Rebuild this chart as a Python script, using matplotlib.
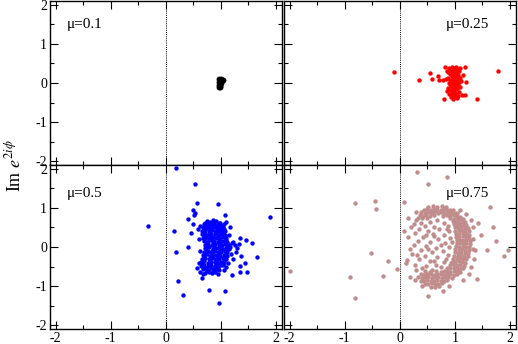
import numpy as np
import matplotlib
matplotlib.use('Agg')
import matplotlib.pyplot as plt
from matplotlib.ticker import MultipleLocator

plt.rcParams['font.family'] = ['Liberation Serif', 'DejaVu Serif']
plt.rcParams['mathtext.fontset'] = 'stix'
plt.rcParams['axes.unicode_minus'] = False

# mu = 0.1 (black)
pts_01 = [(0.97, 0.09), (1.00, 0.10), (1.03, 0.08), (0.99, 0.06), (0.97, 0.03), (1.00, 0.01),
          (0.98, -0.02), (0.97, -0.05), (0.99, -0.07), (0.97, -0.10), (0.99, -0.11), (1.01, 0.04)]

# mu = 0.25 (red)
pts_025 = [(0.95, 0.40), (1.02, 0.40), (0.90, 0.38), (1.05, 0.36), (0.98, 0.35), (0.93, 0.32),
           (1.00, 0.30), (1.08, 0.30), (0.88, 0.28), (0.96, 0.27), (1.03, 0.25), (0.91, 0.22),
           (0.99, 0.21), (1.06, 0.20), (0.94, 0.17), (1.01, 0.15), (0.87, 0.14), (1.09, 0.13),
           (0.97, 0.11), (1.04, 0.09), (0.92, 0.07), (1.00, 0.05), (1.07, 0.03), (0.95, 0.02),
           (0.89, 0.00), (1.02, -0.01), (0.98, -0.04), (1.05, -0.06), (0.93, -0.08), (1.00, -0.10),
           (1.10, -0.11), (0.88, -0.13), (0.96, -0.14), (1.03, -0.16), (0.92, -0.19), (0.99, -0.20),
           (1.07, -0.22), (0.95, -0.25), (1.02, -0.27), (0.89, -0.29), (0.98, -0.31), (1.05, -0.33),
           (0.93, -0.35), (1.00, -0.37), (0.96, -0.40), (0.85, -0.20), (1.12, 0.05), (0.86, 0.32),
           (1.13, -0.30), (0.84, 0.10), (1.10, 0.38), (0.97, 0.00), (1.01, 0.20), (0.95, -0.30),
           (0.97, 0.25), (1.00, -0.25), (0.97, -0.18), (1.03, 0.10), (0.95, 0.08), (1.02, -0.08),
           (0.99, 0.38), (1.03, -0.38), (0.91, -0.03), (1.04, 0.31),
           (-0.11, 0.29), (0.35, 0.08), (0.54, 0.26), (0.59, 0.10), (0.69, 0.18), (0.72, 0.08),
           (0.78, 0.08), (1.78, 0.30), (1.40, -0.40), (1.19, -0.31), (1.18, 0.40), (1.21, 0.03),
           (0.80, -0.42), (0.82, 0.40), (1.15, 0.20)]

# mu = 0.5 (blue): dense body
core_05 = [(0.74, 0.67), (0.80, 0.65), (0.86, 0.68), (0.92, 0.66), (0.77, 0.62),
           (0.69, 0.59), (0.75, 0.57), (0.82, 0.60), (0.88, 0.58), (0.94, 0.59), (0.99, 0.56),
           (0.67, 0.51), (0.73, 0.49), (0.79, 0.52), (0.85, 0.50), (0.91, 0.51), (0.97, 0.49), (1.03, 0.50),
           (0.66, 0.42), (0.71, 0.44), (0.78, 0.41), (0.84, 0.43), (0.90, 0.41), (0.96, 0.42), (1.02, 0.44), (1.07, 0.41),
           (0.65, 0.33), (0.71, 0.35), (0.77, 0.32), (0.83, 0.34), (0.89, 0.33), (0.95, 0.31), (1.01, 0.34), (1.07, 0.32),
           (0.67, 0.24), (0.73, 0.26), (0.79, 0.23), (0.86, 0.25), (0.92, 0.24), (0.98, 0.22), (1.04, 0.25), (1.10, 0.24),
           (0.69, 0.15), (0.75, 0.14), (0.81, 0.17), (0.88, 0.15), (0.94, 0.13), (1.00, 0.16), (1.06, 0.15), (1.12, 0.14),
           (0.71, 0.06), (0.77, 0.08), (0.84, 0.05), (0.90, 0.07), (0.96, 0.06), (1.02, 0.04), (1.08, 0.07), (1.14, 0.05),
           (0.72, -0.03), (0.78, -0.01), (0.85, -0.04), (0.91, -0.02), (0.97, -0.03), (1.03, -0.05), (1.09, -0.02), (1.14, -0.04),
           (0.70, -0.12), (0.76, -0.10), (0.82, -0.13), (0.89, -0.11), (0.95, -0.12), (1.01, -0.14), (1.07, -0.11), (1.12, -0.13),
           (0.68, -0.21), (0.74, -0.19), (0.80, -0.22), (0.87, -0.20), (0.93, -0.21), (0.99, -0.23), (1.05, -0.20), (1.11, -0.22),
           (0.66, -0.30), (0.72, -0.28), (0.78, -0.31), (0.85, -0.29), (0.91, -0.30), (0.97, -0.32), (1.03, -0.29), (1.09, -0.31),
           (0.64, -0.39), (0.70, -0.37), (0.76, -0.40), (0.83, -0.38), (0.89, -0.39), (0.95, -0.41), (1.01, -0.38), (1.06, -0.40),
           (0.64, -0.48), (0.70, -0.46), (0.77, -0.49), (0.83, -0.47), (0.89, -0.48), (0.95, -0.50), (1.01, -0.47),
           (0.67, -0.57), (0.73, -0.55), (0.79, -0.58), (0.85, -0.56), (0.91, -0.57), (0.97, -0.59),
           (0.72, -0.66), (0.78, -0.64), (0.84, -0.67), (0.90, -0.65)]
# mu = 0.5: points between the rows of the body
fill_05 = [(0.72, 0.62), (0.84, 0.63), (0.96, 0.61),
           (0.70, 0.54), (0.78, 0.55), (0.90, 0.53), (1.01, 0.54),
           (0.69, 0.46), (0.81, 0.47), (0.93, 0.45), (1.05, 0.46),
           (0.68, 0.38), (0.80, 0.37), (0.92, 0.38), (1.04, 0.36),
           (0.70, 0.29), (0.82, 0.28), (0.95, 0.29), (1.07, 0.27),
           (0.72, 0.20), (0.84, 0.19), (0.97, 0.20), (1.09, 0.18),
           (0.74, 0.11), (0.86, 0.10), (0.99, 0.11), (1.11, 0.09),
           (0.75, 0.02), (0.87, 0.01), (1.00, 0.02), (1.12, 0.00),
           (0.73, -0.08), (0.86, -0.07), (0.98, -0.08), (1.10, -0.09),
           (0.71, -0.17), (0.84, -0.16), (0.96, -0.17), (1.09, -0.18),
           (0.69, -0.26), (0.82, -0.25), (0.94, -0.26), (1.06, -0.27),
           (0.67, -0.35), (0.80, -0.34), (0.92, -0.35), (1.05, -0.36),
           (0.67, -0.44), (0.80, -0.43), (0.92, -0.44), (1.03, -0.45),
           (0.70, -0.53), (0.82, -0.52), (0.94, -0.53),
           (0.75, -0.62), (0.87, -0.61)]
# mu = 0.5: scattered points
scat_05 = [(0.60, 0.20), (0.62, -0.10), (0.58, 0.45), (0.61, -0.42), (1.15, 0.30), (1.18, -0.18),
           (1.17, 0.00), (1.13, -0.40), (1.10, -0.50), (1.05, -0.58), (0.98, 0.62), (1.05, 0.58),
           (0.95, -0.68), (0.68, -0.70), (0.63, 0.55), (1.20, 0.10), (1.22, -0.30), (1.25, 0.05),
           (0.19, 2.02), (0.53, 1.61), (0.56, 1.12), (0.95, 1.09), (1.07, 0.82), (0.50, 0.95),
           (0.53, 0.86), (0.51, 0.82), (0.41, 0.71), (0.49, 0.58), (0.45, 0.37), (0.15, 0.42),
           (-0.33, 0.54), (0.41, 0.01), (0.19, -0.14), (0.22, -0.87), (0.32, -1.23), (0.79, -1.10),
           (1.07, -1.13), (0.96, -1.44), (0.65, -0.80), (0.56, -0.55), (0.62, -0.63), (1.21, -0.72),
           (1.35, -0.49), (1.36, -0.23), (1.47, -0.63), (1.35, -0.65), (1.44, -0.42), (1.22, 0.14),
           (1.35, 0.22), (1.45, 0.18), (1.56, 0.09), (1.30, -0.03), (1.65, -0.25), (1.90, 0.76),
           (1.16, 0.52), (1.10, 0.65), (1.28, -0.12), (1.32, 0.08)]

# mu = 0.75 (brown): ring
ring_075 = [(0.52, 1.03), (0.60, 1.05), (0.68, 1.02), (0.76, 1.04), (0.84, 1.02),
            (0.44, 0.96), (0.50, 0.97), (0.56, 0.95), (0.62, 0.97), (0.68, 0.96), (0.74, 0.95),
            (0.80, 0.97), (0.86, 0.96), (0.92, 0.95), (0.97, 0.94),
            (0.39, 0.89), (0.45, 0.88), (0.51, 0.90), (0.57, 0.88), (0.63, 0.89), (0.69, 0.87),
            (0.75, 0.89), (0.81, 0.88), (0.87, 0.90), (0.93, 0.88), (0.99, 0.87), (1.04, 0.86),
            (0.36, 0.81), (0.42, 0.80), (0.48, 0.82), (0.55, 0.80), (0.62, 0.81), (0.78, 0.80),
            (0.85, 0.82), (0.92, 0.80), (0.98, 0.81), (1.04, 0.79), (1.09, 0.78),
            (0.34, 0.74), (0.40, 0.73), (0.92, 0.74), (0.98, 0.72), (1.04, 0.74), (1.10, 0.72), (1.15, 0.71),
            (0.96, 0.66), (1.02, 0.65), (1.08, 0.67), (1.14, 0.65), (1.19, 0.64),
            (0.98, 0.58), (1.04, 0.57), (1.10, 0.59), (1.16, 0.57), (1.21, 0.56),
            (1.00, 0.50), (1.06, 0.49), (1.12, 0.51), (1.18, 0.49), (1.23, 0.48),
            (1.01, 0.42), (1.07, 0.41), (1.13, 0.43), (1.19, 0.41), (1.25, 0.40),
            (1.02, 0.34), (1.08, 0.33), (1.14, 0.35), (1.20, 0.33), (1.26, 0.32),
            (1.02, 0.26), (1.08, 0.25), (1.14, 0.27), (1.20, 0.25), (1.26, 0.24),
            (1.03, 0.18), (1.09, 0.17), (1.15, 0.19), (1.21, 0.17), (1.27, 0.16),
            (1.03, 0.10), (1.09, 0.09), (1.15, 0.11), (1.21, 0.09), (1.27, 0.08),
            (1.02, 0.02), (1.08, 0.01), (1.14, 0.03), (1.20, 0.01), (1.26, 0.00),
            (1.01, -0.06), (1.07, -0.07), (1.13, -0.05), (1.19, -0.07), (1.25, -0.08),
            (1.00, -0.14), (1.06, -0.15), (1.12, -0.13), (1.18, -0.15), (1.24, -0.16),
            (0.99, -0.22), (1.05, -0.23), (1.11, -0.21), (1.17, -0.23), (1.23, -0.24),
            (0.97, -0.30), (1.03, -0.31), (1.09, -0.29), (1.15, -0.31), (1.21, -0.32),
            (0.95, -0.38), (1.01, -0.39), (1.07, -0.37), (1.13, -0.39), (1.19, -0.40),
            (0.92, -0.46), (0.98, -0.47), (1.04, -0.45), (1.10, -0.47), (1.16, -0.48),
            (0.86, -0.54), (0.92, -0.55), (0.98, -0.53), (1.04, -0.55), (1.10, -0.56), (1.14, -0.54),
            (0.45, -0.62), (0.55, -0.63), (0.66, -0.61), (0.74, -0.63), (0.80, -0.62), (0.86, -0.61),
            (0.92, -0.63), (0.98, -0.62), (1.04, -0.61), (1.09, -0.63),
            (0.38, -0.70), (0.44, -0.71), (0.50, -0.69), (0.56, -0.70), (0.62, -0.71), (0.68, -0.69),
            (0.74, -0.70), (0.80, -0.71), (0.86, -0.69), (0.92, -0.70), (0.98, -0.71), (1.03, -0.69),
            (0.33, -0.78), (0.40, -0.79), (0.46, -0.77), (0.52, -0.78), (0.58, -0.79), (0.64, -0.77),
            (0.70, -0.78), (0.76, -0.79), (0.82, -0.77), (0.88, -0.78), (0.94, -0.79),
            (0.38, -0.86), (0.44, -0.87), (0.50, -0.85), (0.56, -0.86), (0.62, -0.87), (0.68, -0.85),
            (0.74, -0.86), (0.80, -0.87), (0.86, -0.85),
            (0.46, -0.94), (0.52, -0.95), (0.58, -0.93), (0.64, -0.94), (0.70, -0.95), (0.76, -0.93),
            (0.56, -1.02), (0.64, -1.03), (0.72, -1.01)]
# mu = 0.75: points inside and around the ring
scat_075 = [(0.55, 0.65), (0.68, 0.70), (0.80, 0.62), (0.45, 0.55), (0.62, 0.52), (0.88, 0.55),
            (0.35, 0.45), (0.52, 0.42), (0.72, 0.45), (0.90, 0.40), (0.28, 0.35), (0.60, 0.33),
            (0.80, 0.30), (0.42, 0.25), (0.70, 0.20), (0.92, 0.22), (0.33, 0.15), (0.55, 0.12),
            (0.82, 0.10), (0.25, 0.05), (0.47, 0.02), (0.65, -0.02), (0.90, 0.00), (0.38, -0.08),
            (0.58, -0.12), (0.78, -0.10), (0.22, -0.18), (0.45, -0.22), (0.68, -0.25), (0.88, -0.20),
            (0.35, -0.32), (0.55, -0.35), (0.80, -0.38), (0.28, -0.45), (0.48, -0.48), (0.65, -0.45),
            (0.40, -0.55), (0.58, -0.58), (0.75, -0.52), (0.20, 0.50), (0.15, 0.25), (0.18, -0.05),
            (0.12, -0.40), (0.30, 0.70), (0.25, 0.60), (0.50, 0.75), (0.62, 0.28), (0.74, 0.05),
            (0.52, -0.05), (0.30, -0.60), (0.38, 0.62), (0.48, 0.30), (0.84, -0.30), (0.86, 0.45),
            (0.32, -0.20), (0.62, -0.35), (0.95, 0.12), (0.93, -0.40), (1.32, 0.50), (1.35, -0.30),
            (1.30, 0.70), (1.33, 0.20), (1.30, -0.50), (1.25, -0.70), (1.15, -0.85), (1.20, 0.85),
            (1.10, 0.95), (1.32, -0.05), (0.30, 0.90), (0.28, -0.85), (0.40, -1.00), (0.90, -1.00),
            (-0.82, 1.12), (-0.45, 1.19), (-0.43, 0.97), (-2.00, -0.62), (-0.53, -0.15), (-0.21, -0.35),
            (-0.90, -0.78), (-0.31, -0.74), (-0.81, -1.30), (-0.05, -0.57), (0.07, 1.16), (0.31, 1.91),
            (0.52, 1.62), (0.86, 1.79), (0.07, 0.41), (0.15, 0.74), (0.13, -0.33), (0.19, -0.78),
            (1.63, 1.03), (1.69, 0.50), (1.75, 0.16), (1.59, -0.08), (1.90, -0.23), (1.96, -0.08),
            (1.41, -0.83), (1.36, -0.08), (0.51, -1.26), (0.78, -1.13), (1.48, 0.31), (1.42, 0.61)]

panel_data = [pts_01, pts_025, core_05 + fill_05 + scat_05, ring_075 + scat_075]
panel_colors = ['black', '#ff0000', '#0000ff', '#c08c8c']
panel_sizes = [18, 10, 10, 10]
panel_labels = [r'μ=0.1', r'μ=0.25', r'μ=0.5', r'μ=0.75']
label_pos = [(-1.8, 1.5), (0.84, 1.5), (-1.8, 1.38), (0.84, 1.38)]

W, H = 518, 344
fig = plt.figure(figsize=(W / 100, H / 100), dpi=100)
xl = [50 / W, 284 / W]
yb = [1 - 165 / H, 1 - 329 / H]
aw, ah = 231.5 / W, 164 / H

for k in range(4):
    r, c = k // 2, k % 2
    ax = fig.add_axes([xl[c], yb[r], aw, ah])
    pts = np.array(panel_data[k])
    ax.scatter(pts[:, 0], pts[:, 1], s=panel_sizes[k], c=panel_colors[k], linewidths=0, zorder=3)
    ax.axvline(0, color='black', lw=0.7, ls=(0, (1, 1.2)), zorder=1)
    ax.set_xlim(-2.1, 2.1)
    ax.set_ylim(-2.1, 2.1)
    ax.xaxis.set_major_locator(MultipleLocator(1))
    ax.yaxis.set_major_locator(MultipleLocator(1))
    ax.xaxis.set_minor_locator(MultipleLocator(0.5))
    ax.yaxis.set_minor_locator(MultipleLocator(0.5))
    ax.tick_params(which='both', direction='in', top=True, right=True, width=0.8, labelsize=10, pad=2)
    ax.tick_params(which='major', length=6)
    ax.tick_params(which='minor', length=3)
    for sp in ax.spines.values():
        sp.set_linewidth(1.0)
    if r == 0:
        ax.tick_params(labelbottom=False)
    if c == 1:
        ax.tick_params(labelleft=False)
    ax.text(label_pos[k][0], label_pos[k][1], panel_labels[k], fontsize=11, ha='left', va='center')

fig.text(14 / W, 1 - 166 / H, r'Im $e^{2i\phi}$', rotation=90, fontsize=13, ha='center', va='center')

fig.savefig('out.png', dpi=100)
